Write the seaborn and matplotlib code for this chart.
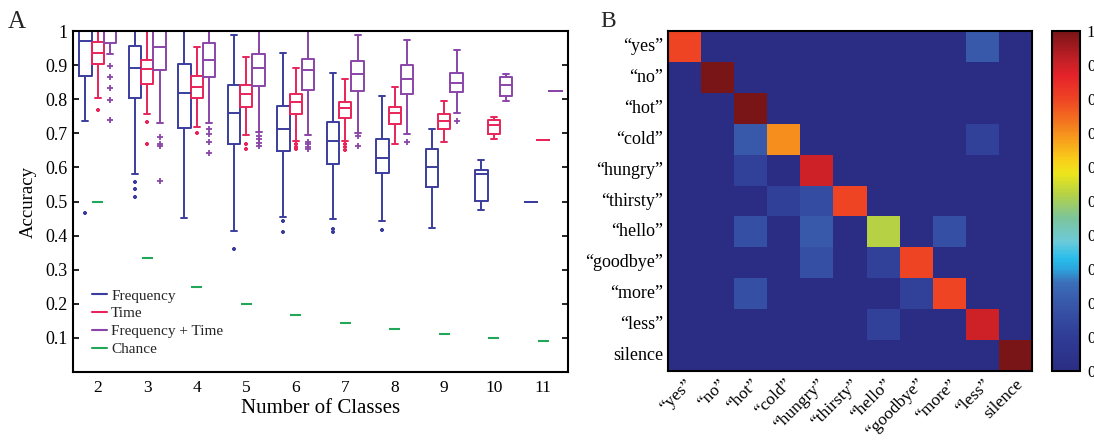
import numpy as np
import pandas as pd
import matplotlib
matplotlib.use("Agg")
import matplotlib.pyplot as plt
import seaborn as sns
from matplotlib.colors import LinearSegmentedColormap, to_hex
from matplotlib.lines import Line2D

sns.set_style("white")
plt.rcParams['font.family'] = ['Liberation Serif', 'DejaVu Serif']
plt.rcParams['mathtext.fontset'] = 'stix'

# ---------------- data: panel A ----------------
CLASSES = [2, 3, 4, 5, 6, 7, 8, 9, 10, 11]
SERIES = ["Frequency", "Time", "Frequency + Time"]
CHANCE = [0.5, 0.333, 0.25, 0.2, 0.167, 0.143, 0.125, 0.111, 0.1, 0.091]

FREQ_WLO = [0.735, 0.581, 0.451, 0.415, 0.456, 0.449, 0.443, 0.422, 0.474, 0.498]
FREQ_Q1 = [0.868, 0.803, 0.717, 0.669, 0.648, 0.610, 0.585, 0.543, 0.502, 0.498]
FREQ_MED = [0.971, 0.891, 0.819, 0.761, 0.713, 0.677, 0.627, 0.601, 0.582, 0.498]
FREQ_Q3 = [1.0, 0.957, 0.902, 0.842, 0.780, 0.734, 0.684, 0.653, 0.591, 0.498]
FREQ_WHI = [1.0, 1.0, 1.0, 0.988, 0.935, 0.878, 0.809, 0.713, 0.622, 0.498]
FREQ_OUT = [[0.467], [0.558, 0.536, 0.512], [], [0.361], [0.444, 0.412],
            [0.420, 0.412], [0.416], [], [], []]

TIME_WLO = [0.805, 0.758, 0.718, 0.696, 0.678, 0.678, 0.669, 0.675, 0.682, 0.680]
TIME_Q1 = [0.902, 0.845, 0.803, 0.776, 0.757, 0.746, 0.726, 0.713, 0.698, 0.680]
TIME_MED = [0.935, 0.890, 0.835, 0.815, 0.791, 0.775, 0.761, 0.735, 0.723, 0.680]
TIME_Q3 = [0.969, 0.914, 0.869, 0.842, 0.814, 0.793, 0.777, 0.757, 0.740, 0.680]
TIME_WHI = [1.0, 1.0, 0.952, 0.923, 0.891, 0.859, 0.836, 0.795, 0.749, 0.680]
TIME_OUT = [[0.769], [0.734, 0.669], [0.700], [0.669, 0.654], [0.669, 0.661, 0.654],
            [0.669, 0.661, 0.651], [], [], [], []]

FT_WLO = [0.932, 0.731, 0.731, 0.705, 0.695, 0.701, 0.699, 0.760, 0.794, 0.824]
FT_Q1 = [0.964, 0.887, 0.864, 0.839, 0.827, 0.825, 0.816, 0.822, 0.810, 0.824]
FT_MED = [1.0, 0.953, 0.916, 0.891, 0.887, 0.873, 0.858, 0.849, 0.841, 0.824]
FT_Q3 = [1.0, 1.0, 0.964, 0.932, 0.919, 0.911, 0.899, 0.876, 0.864, 0.824]
FT_WHI = [1.0, 1.0, 1.0, 1.0, 1.0, 0.988, 0.975, 0.945, 0.874, 0.824]
FT_OUT = [[0.897, 0.864, 0.832, 0.798, 0.740], [0.688, 0.668, 0.662, 0.561],
          [0.712, 0.698, 0.674, 0.641], [0.692, 0.683, 0.673, 0.664],
          [0.675, 0.668, 0.661, 0.654], [0.692, 0.664], [0.674], [0.737], [], []]

# ---------------- data: panel B ----------------
WORDS = ["\u201cyes\u201d", "\u201cno\u201d", "\u201chot\u201d", "\u201ccold\u201d",
         "\u201chungry\u201d", "\u201cthirsty\u201d", "\u201chello\u201d",
         "\u201cgoodbye\u201d", "\u201cmore\u201d", "\u201cless\u201d", "silence"]
CONFUSION = [
    [0.80, 0, 0, 0, 0, 0, 0, 0, 0, 0.20, 0],
    [0, 1.0, 0, 0, 0, 0, 0, 0, 0, 0, 0],
    [0, 0, 1.0, 0, 0, 0, 0, 0, 0, 0, 0],
    [0, 0, 0.20, 0.70, 0, 0, 0, 0, 0, 0.12, 0],
    [0, 0, 0.12, 0, 0.90, 0, 0, 0, 0, 0, 0],
    [0, 0, 0, 0.11, 0.16, 0.80, 0, 0, 0, 0, 0],
    [0, 0, 0.17, 0, 0.20, 0, 0.52, 0, 0.17, 0, 0],
    [0, 0, 0, 0, 0.17, 0, 0.12, 0.80, 0, 0, 0],
    [0, 0, 0.17, 0, 0, 0, 0, 0.12, 0.80, 0, 0],
    [0, 0, 0, 0, 0, 0, 0.12, 0, 0, 0.90, 0],
    [0, 0, 0, 0, 0, 0, 0, 0, 0, 0, 1.0],
]

PALETTE = {"Frequency": "#3a3d9c", "Time": "#e8245a", "Frequency + Time": "#8a45a8"}
CHANCE_COLOR = "#22a65a"

CMAP = LinearSegmentedColormap.from_list("matjet", [
    (0.00, "#2b2d84"), (0.10, "#2f3c96"), (0.20, "#3858aa"), (0.26, "#3b6fb8"),
    (0.30, "#2ba6de"), (0.33, "#29bdeb"), (0.38, "#6ccadb"), (0.45, "#7cc49a"),
    (0.52, "#b5d245"), (0.58, "#ede51c"), (0.62, "#f8d01a"), (0.68, "#f7a01c"),
    (0.74, "#f3701f"), (0.80, "#ee4424"), (0.87, "#e5222a"), (0.92, "#c01f26"),
    (1.00, "#7a1517")])

# ---------------- build long table ----------------
stats = {
    "Frequency": (FREQ_WLO, FREQ_Q1, FREQ_MED, FREQ_Q3, FREQ_WHI, FREQ_OUT),
    "Time": (TIME_WLO, TIME_Q1, TIME_MED, TIME_Q3, TIME_WHI, TIME_OUT),
    "Frequency + Time": (FT_WLO, FT_Q1, FT_MED, FT_Q3, FT_WHI, FT_OUT),
}
rows = []
for name, (wlo, q1, med, q3, whi, out) in stats.items():
    for k, c in enumerate(CLASSES):
        vals = [wlo[k]] + [q1[k]] * 10 + [med[k]] * 10 + [q3[k]] * 10 + [whi[k]] + list(out[k])
        rows += [(c, name, v) for v in vals]
df = pd.DataFrame(rows, columns=["classes", "series", "acc"])

# ---------------- figure ----------------
fig = plt.figure(figsize=(10.94, 4.40), dpi=100)
ax = fig.add_axes([0.0667, 0.1545, 0.4525, 0.775])
hax = fig.add_axes([0.6106, 0.1568, 0.3327, 0.7727])
cax = fig.add_axes([0.9616, 0.1568, 0.0256, 0.7727])

sns.boxplot(data=df, x="classes", y="acc", hue="series", hue_order=SERIES,
            palette=PALETTE, native_scale=True, fill=False, width=0.75, gap=0,
            linewidth=1.4, whis=1.5,
            flierprops=dict(marker="+", markersize=4.5, markeredgewidth=1.3),
            legend=False, ax=ax)
# smaller, dot-like outlier marks for the Frequency and Time series
small = {to_hex(PALETTE["Frequency"]), to_hex(PALETTE["Time"])}
for ln in ax.lines:
    if ln.get_marker() == "+":
        try:
            ec = to_hex(ln.get_markeredgecolor())
        except Exception:
            continue
        if ec in small:
            ln.set_markersize(2.6)
            ln.set_markeredgewidth(1.6)

cls = np.array(CLASSES, dtype=float)
ax.hlines(CHANCE, cls - 0.11, cls + 0.11, color=CHANCE_COLOR, lw=1.5)

ax.set_xlim(1.5, 11.5)
ax.set_ylim(0, 1)
ax.set_xticks(CLASSES)
ax.set_xticklabels([str(c) for c in CLASSES])
ax.set_yticks(np.round(np.arange(0.1, 1.01, 0.1), 1))
ax.set_yticklabels(["0.1", "0.2", "0.3", "0.4", "0.5", "0.6", "0.7", "0.8", "0.9", "1"])
ax.tick_params(axis="both", direction="in", length=4, width=1.2,
               color="black", labelcolor="black")
ax.tick_params(axis="y", right=True, left=True, labelsize=13, pad=4)
ax.tick_params(axis="x", bottom=True, top=False, length=0, pad=6, labelsize=12.5)
for s in ax.spines.values():
    s.set_visible(True)
    s.set_color("black")
    s.set_linewidth(1.5)
ax.set_xlabel("Number of Classes", fontsize=15, color="black", labelpad=2)
ax.set_ylabel("Accuracy", fontsize=13.5, color="black", labelpad=6)

handles = [Line2D([], [], color=PALETTE[s], lw=1.5) for s in SERIES]
handles.append(Line2D([], [], color=CHANCE_COLOR, lw=1.5))
ax.legend(handles, SERIES + ["Chance"], loc="lower left", bbox_to_anchor=(0.02, 0.02),
          frameon=False, fontsize=11, handlelength=1.0, handletextpad=0.25,
          labelspacing=0.27, borderaxespad=0.2)

# heatmap
mat = pd.DataFrame(CONFUSION, index=WORDS, columns=WORDS)
sns.heatmap(mat, cmap=CMAP, vmin=0, vmax=1, ax=hax, cbar_ax=cax,
            xticklabels=WORDS, yticklabels=WORDS, linewidths=0)
hax.tick_params(axis="both", direction="in", length=4, width=1.2, labelsize=13,
                color="black", labelcolor="black")
hax.tick_params(axis="x", top=True, bottom=True, labelsize=12.5)
hax.tick_params(axis="y", left=True, right=True)
plt.setp(hax.get_yticklabels(), rotation=0)
plt.setp(hax.get_xticklabels(), rotation=45, ha="right", rotation_mode="anchor")
for s in hax.spines.values():
    s.set_visible(True)
    s.set_color("black")
    s.set_linewidth(1.5)

cb = hax.collections[0].colorbar
ticks = np.round(np.arange(0, 1.01, 0.1), 1)
cb.set_ticks(ticks)
cb.set_ticklabels(["0"] + ["%.1f" % t for t in ticks[1:-1]] + ["1"])
cb.outline.set_linewidth(1.5)
cb.outline.set_edgecolor("black")
cax.tick_params(direction="in", length=3, width=1.2, labelsize=12, left=True, right=True,
                color="black", labelcolor="black", pad=5)

fig.text(0.007, 0.975, "A", fontsize=18, va="top", ha="left")
fig.text(0.549, 0.975, "B", fontsize=17, va="top", ha="left")

fig.savefig("out.png", dpi=100)
